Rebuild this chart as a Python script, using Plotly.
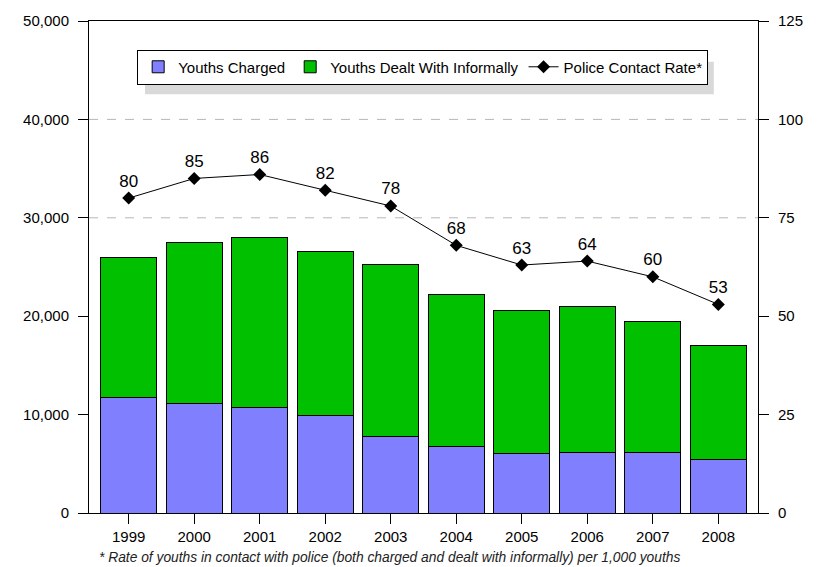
import plotly.graph_objects as go

# Youth police contact, 1999-2008
years = ["1999", "2000", "2001", "2002", "2003", "2004", "2005", "2006", "2007", "2008"]
youths_charged = [11720, 11090, 10720, 9910, 7730, 6750, 6050, 6150, 6150, 5470]
youths_informal = [14280, 16430, 17270, 16700, 17540, 15460, 14580, 14850, 13340, 11600]
contact_rate = [80, 85, 86, 82, 78, 68, 63, 64, 60, 53]

left_ticks = [0, 10000, 20000, 30000, 40000, 50000]
right_ticks = [0, 25, 50, 75, 100, 125]
dashed_levels = [30000, 40000]

FONT = "Arial, 'Liberation Sans', sans-serif"
FOOTNOTE = "* Rate of youths in contact with police (both charged and dealt with informally) per 1,000 youths"

fig = go.Figure()
fig.add_trace(go.Bar(
    x=years, y=youths_charged, name="Youths Charged",
    marker=dict(color="#8080FF", line=dict(color="#000000", width=1)),
))
fig.add_trace(go.Bar(
    x=years, y=youths_informal, name="Youths Dealt With Informally",
    marker=dict(color="#00C000", line=dict(color="#000000", width=1)),
))
fig.add_trace(go.Scatter(
    x=years, y=contact_rate, name="Police Contact Rate*", yaxis="y2",
    mode="lines+markers+text",
    line=dict(color="#000000", width=1),
    marker=dict(symbol="diamond", size=10, color="#000000"),
    text=[str(v) for v in contact_rate], textposition="top center",
    textfont=dict(family=FONT, size=17, color="#000000"),
    cliponaxis=False,
))

shapes = [
    dict(type="line", xref="paper", x0=0, x1=1, yref="y", y0=lv, y1=lv,
         line=dict(color="#BDB5B5", width=1, dash="dash"), layer="below")
    for lv in dashed_levels
]
# drop shadow behind the legend box
shapes.append(dict(type="rect", xref="paper", yref="paper",
                   x0=0.0837, x1=0.934, y0=0.851, y1=0.917,
                   fillcolor="#D9D9D9", line=dict(width=0), layer="above"))

fig.update_layout(
    width=820, height=567,
    margin=dict(l=89, r=62, t=17, b=54),
    paper_bgcolor="white", plot_bgcolor="white",
    barmode="stack", bargap=0.15,
    font=dict(family=FONT, size=15, color="#000000"),
    showlegend=True,
    legend=dict(
        orientation="h", x=0.072, y=0.942, xanchor="left", yanchor="top",
        bgcolor="white", bordercolor="#000000", borderwidth=1,
        font=dict(family=FONT, size=15, color="#000000"),
        itemwidth=30, tracegroupgap=0, traceorder="normal",
    ),
    xaxis=dict(
        type="category", showline=True, linecolor="#000000", linewidth=1,
        mirror=True, ticks="outside", ticklen=10, tickcolor="#000000",
        showgrid=False, tickfont=dict(size=15),
    ),
    yaxis=dict(
        range=[0, 50000], tickvals=left_ticks, tickformat=",d",
        showline=True, linecolor="#000000", linewidth=1,
        ticks="outside", ticklen=10, tickcolor="#000000",
        showgrid=False, zeroline=False, ticklabelstandoff=6,
        tickfont=dict(size=15),
    ),
    yaxis2=dict(
        range=[0, 125], tickvals=right_ticks, overlaying="y", side="right",
        showline=True, linecolor="#000000", linewidth=1,
        ticks="outside", ticklen=10, tickcolor="#000000",
        showgrid=False, zeroline=False, ticklabelstandoff=6,
        tickfont=dict(size=15),
    ),
    shapes=shapes,
    annotations=[dict(
        text="<i>" + FOOTNOTE + "</i>",
        xref="paper", yref="paper", x=0.012, y=-0.09, xanchor="left", yanchor="middle",
        showarrow=False, font=dict(family=FONT, size=13.8, color="#222222"),
    )],
)

fig.write_html("out.html")
